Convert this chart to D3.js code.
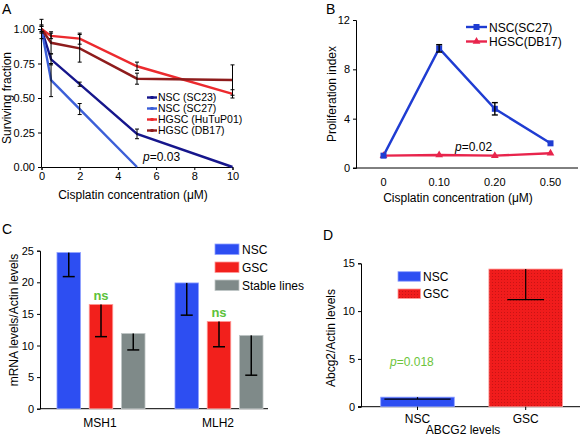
<!DOCTYPE html>
<html><head><meta charset="utf-8">
<script src="https://cdn.jsdelivr.net/npm/d3@7/dist/d3.min.js"></script>
<style>
body{margin:0;background:#fff;}
svg{font-family:"Liberation Sans",Arial,sans-serif;}
.axis path,.axis line{stroke:#000;stroke-width:1;}
.axis text{font-size:11px;fill:#000;}
</style></head><body>
<svg id="c" width="580" height="436"></svg>
<script>
// ---------- DATA ----------
// Panel A
const aDoses = [0, 0.5, 2, 5, 10];
const aSeries = ["NSC (SC23)", "NSC (SC27)", "HGSC (HuTuP01)", "HGSC (DB17)"];
const aSC23 = [1.00, 0.78, 0.60, 0.24, 0.00];
const aSC23Err = [0.02, 0.04, 0.015, 0.035, 0];
const aSC27 = [1.00, 0.63, 0.42, 0.00];
const aSC27Err = [0.07, 0.12, 0.04, 0];
const aHuTu = [1.00, 0.95, 0.93, 0.73, 0.53];
const aHuTuErr = [0.02, 0.02, 0.04, 0.03, 0.03];
const aDB17 = [1.00, 0.90, 0.86, 0.64, 0.63];
const aDB17Err = [0.03, 0.08, 0.10, 0.04, 0.11];
const aYTicks = [0, 0.25, 0.5, 0.75, 1.0];
const aXTicks = [0, 2, 4, 6, 8, 10];
// Panel B
const bCats = ["0", "0.10", "0.20", "0.50"];
const bSeries = ["NSC(SC27)", "HGSC(DB17)"];
const bNSC = [1.0, 9.7, 4.8, 2.0];
const bNSCErr = [0, 0.3, 0.5, 0];
const bHGSC = [1.0, 1.05, 1.0, 1.2];
const bYTicks = [0, 4, 8, 12];
// Panel C
const cGroups = ["MSH1", "MLH2"];
const cSeries = ["NSC", "GSC", "Stable lines"];
const cNSC = [24.7, 19.9];
const cGSC = [16.5, 13.8];
const cStable = [11.9, 11.6];
const cNSCLow = [20.9, 14.8];
const cGSCLow = [11.4, 9.8];
const cStableLow = [9.3, 5.3];
const cYTicks = [0, 5, 10, 15, 20, 25];
// Panel D
const dCats = ["NSC", "GSC"];
const dValues = [1.0, 14.4];
const dLow = [0.8, 11.2];
const dYTicks = [0, 5, 10, 15];

// ---------- DRAW ----------
const svg = d3.select("#c");
const defs = svg.append("defs");
const pat = defs.append("pattern").attr("id","dots").attr("width",3).attr("height",3).attr("patternUnits","userSpaceOnUse");
pat.append("rect").attr("width",3).attr("height",3).attr("fill","#f01c1c");
pat.append("rect").attr("x",0).attr("y",0).attr("width",1).attr("height",1).attr("fill","#c81414");

function letter(t,x,y){svg.append("text").attr("x",x).attr("y",y).attr("font-size",14).text(t);}
function ytitle(t,x,y,size){svg.append("text").attr("transform",`translate(${x},${y}) rotate(-90)`).attr("text-anchor","middle").attr("font-size",size||12).text(t);}
function xtitle(t,x,y,size){svg.append("text").attr("x",x).attr("y",y).attr("text-anchor","middle").attr("font-size",size||12).text(t);}
function errbar(g,x,y1,y2,cw,sw){
  g.append("line").attr("x1",x).attr("x2",x).attr("y1",y1).attr("y2",y2).attr("stroke","#000").attr("stroke-width",sw||1);
  [y1,y2].forEach(y=>g.append("line").attr("x1",x-cw/2).attr("x2",x+cw/2).attr("y1",y).attr("y2",y).attr("stroke","#000").attr("stroke-width",sw||1));
}

// ===== Panel A =====
{
  const x = d3.scaleLinear().domain([0,10]).range([41.5,232.5]);
  const y = d3.scaleLinear().domain([0,1]).range([167,29]);
  const g = svg.append("g");
  g.append("g").attr("class","axis").attr("transform","translate(41,0)")
    .call(d3.axisLeft(y).tickValues(aYTicks).tickFormat(d3.format(".2f")).tickSize(3).tickPadding(3));
  g.append("g").attr("class","axis").attr("transform","translate(0,167)")
    .call(d3.axisBottom(x).tickValues(aXTicks).tickSize(3).tickPadding(2));
  const cols = ["#16168c","#3c5fd8","#ec2a2e","#8e1c1c"];
  const vals = [aSC23,aSC27,aHuTu,aDB17];
  const errs = [aSC23Err,aSC27Err,aHuTuErr,aDB17Err];
  const line = d3.line().x(d=>x(d[0])).y(d=>y(d[1]));
  vals.forEach((v,i)=>{
    const pts = v.map((d,j)=>[aDoses[j],d]);
    g.append("path").attr("d",line(pts)).attr("fill","none").attr("stroke",cols[i]).attr("stroke-width",2.4);
  });
  vals.forEach((v,i)=>{
    v.forEach((d,j)=>{ const e=errs[i][j]; if(e>0) errbar(g,x(aDoses[j]),y(d+e),y(d-e),4,1); });
  });
  // legend
  aSeries.forEach((s,i)=>{
    const yy = 97.5 + i*11;
    g.append("line").attr("x1",147).attr("x2",157).attr("y1",yy).attr("y2",yy).attr("stroke",cols[i]).attr("stroke-width",2.4);
    g.append("rect").attr("x",150.5).attr("y",yy-1.5).attr("width",3).attr("height",3).attr("fill",cols[i]);
    g.append("text").attr("x",158).attr("y",yy+3.8).attr("font-size",10.5).text(s);
  });
  const p = g.append("text").attr("x",143).attr("y",161).attr("font-size",12);
  p.append("tspan").attr("font-style","italic").text("p");
  p.append("tspan").text("=0.03");
  letter("A",2,14);
  ytitle("Surviving fraction",11,98,12);
  xtitle("Cisplatin concentration (\u03bcM)",133,199,12);
}

// ===== Panel B =====
{
  const x = d3.scalePoint().domain(bCats).range([383.5,550.5]);
  const y = d3.scaleLinear().domain([0,12]).range([168,20]);
  const g = svg.append("g");
  g.append("g").attr("class","axis").attr("transform","translate(356,0)")
    .call(d3.axisLeft(y).tickValues(bYTicks).tickSize(3).tickPadding(3));
  g.append("line").attr("x1",353).attr("x2",578).attr("y1",168).attr("y2",168).attr("stroke","#000");
  bCats.forEach(c=>g.append("text").attr("x",x(c)).attr("y",186).attr("text-anchor","middle").attr("font-size",11).text(c));
  const line = d3.line().x((d,i)=>x(bCats[i])).y(d=>y(d));
  const blue="#1f3cd2", red="#e8244c";
  g.append("path").attr("d",line(bHGSC)).attr("fill","none").attr("stroke",red).attr("stroke-width",2.4);
  g.append("path").attr("d",line(bNSC)).attr("fill","none").attr("stroke",blue).attr("stroke-width",2.4);
  const tri = d3.symbol().type(d3.symbolTriangle).size(26);
  bHGSC.forEach((d,i)=>g.append("path").attr("d",tri()).attr("transform",`translate(${x(bCats[i])},${y(d)})`).attr("fill",red));
  bNSC.forEach((d,i)=>g.append("rect").attr("x",x(bCats[i])-3).attr("y",y(d)-3).attr("width",6).attr("height",6).attr("fill",blue));
  bNSC.forEach((d,i)=>{const e=bNSCErr[i]; if(e>0) errbar(g,x(bCats[i]),y(d+e),y(d-e),6,1.4);});
  // legend
  const lc=[blue,red];
  bSeries.forEach((s,i)=>{
    const yy = 27 + i*14.5;
    g.append("line").attr("x1",466).attr("x2",487).attr("y1",yy).attr("y2",yy).attr("stroke",lc[i]).attr("stroke-width",2.4);
    if(i===0) g.append("rect").attr("x",473.5).attr("y",yy-3).attr("width",6).attr("height",6).attr("fill",lc[i]);
    else g.append("path").attr("d",tri()).attr("transform",`translate(476.5,${yy})`).attr("fill",lc[i]);
    g.append("text").attr("x",489).attr("y",yy+4.5).attr("font-size",12).text(s);
  });
  const p = g.append("text").attr("x",455).attr("y",151).attr("font-size",12);
  p.append("tspan").attr("font-style","italic").text("p");
  p.append("tspan").text("=0.02");
  letter("B",326,14);
  ytitle("Proliferation index",336,94,12);
  xtitle("Cisplatin concentration (\u03bcM)",458,202,12);
}

// ===== Panel C =====
{
  const x0 = d3.scaleBand().domain(cGroups).range([42,278]).paddingInner(0.254).paddingOuter(0.127);
  const x1 = d3.scaleBand().domain(cSeries).range([0,x0.bandwidth()]).paddingInner(0.271).paddingOuter(0);
  const y = d3.scaleLinear().domain([0,25]).range([408.7,250.7]);
  const g = svg.append("g");
  g.append("g").attr("class","axis").attr("transform","translate(40,0)")
    .call(d3.axisLeft(y).tickValues(cYTicks).tickSize(3).tickPadding(3));
  g.append("line").attr("x1",40).attr("x2",268).attr("y1",408.7).attr("y2",408.7).attr("stroke","#000");
  const cols = ["#2d4ef2","#f2201c","#7f8a89"];
  const strokes = ["#8fa0ff","#ff9a98","#c0c6c6"];
  const vals=[cNSC,cGSC,cStable], lows=[cNSCLow,cGSCLow,cStableLow];
  cGroups.forEach((grp,gi)=>{
    cSeries.forEach((s,si)=>{
      const v = vals[si][gi];
      const bx = x0(grp)+x1(s);
      g.append("rect").attr("x",bx).attr("y",y(v)).attr("width",x1.bandwidth()).attr("height",y(0)-y(v))
        .attr("fill",cols[si]).attr("stroke",strokes[si]).attr("stroke-width",0.8);
      const cx = bx + x1.bandwidth()/2;
      g.append("line").attr("x1",cx).attr("x2",cx).attr("y1",y(v)).attr("y2",y(lows[si][gi])).attr("stroke","#000").attr("stroke-width",1.5);
      g.append("line").attr("x1",cx-6).attr("x2",cx+6).attr("y1",y(lows[si][gi])).attr("y2",y(lows[si][gi])).attr("stroke","#000").attr("stroke-width",1.5);
    });
    g.append("text").attr("x",x0(grp)+x0.bandwidth()/2-1).attr("y",427).attr("text-anchor","middle").attr("font-size",12).text(grp);
    const gx = x0(grp)+x1("GSC")+x1.bandwidth()/2;
    g.append("text").attr("x",gx).attr("y",y(cGSC[gi])-4).attr("text-anchor","middle").attr("font-size",13).attr("font-weight","bold").attr("fill","#5cc23a").text("ns");
  });
  cSeries.forEach((s,i)=>{
    const yy = 244 + i*18;
    g.append("rect").attr("x",215).attr("y",yy).attr("width",24).attr("height",10.5).attr("fill",cols[i]).attr("stroke",strokes[i]).attr("stroke-width",0.8);
    g.append("text").attr("x",242).attr("y",yy+9.5).attr("font-size",12).text(s);
  });
  letter("C",2,234);
  ytitle("mRNA levels/Actin levels",18,320,12);
}

// ===== Panel D =====
{
  const x = d3.scaleBand().domain(dCats).range([360.7,582.5]).paddingInner(0.32).paddingOuter(0.185);
  const y = d3.scaleLinear().domain([0,15]).range([406.7,263.3]);
  const g = svg.append("g");
  g.append("g").attr("class","axis").attr("transform","translate(361,0)")
    .call(d3.axisLeft(y).tickValues(dYTicks).tickSize(3).tickPadding(3));
  g.append("line").attr("x1",358).attr("x2",580).attr("y1",406.7).attr("y2",406.7).attr("stroke","#000");
  const fills = ["#2d4ef2","url(#dots)"];
  const strokes = ["#8fa0ff","#ff9a98"];
  const caps = [0.9,0.5];
  dCats.forEach((c,i)=>{
    const v=dValues[i];
    g.append("rect").attr("x",x(c)).attr("y",y(v)).attr("width",x.bandwidth()).attr("height",y(0)-y(v))
      .attr("fill",fills[i]).attr("stroke",strokes[i]).attr("stroke-width",0.8);
    const cx = x(c)+x.bandwidth()/2, cw = x.bandwidth()*caps[i];
    g.append("line").attr("x1",cx).attr("x2",cx).attr("y1",y(v)).attr("y2",y(dLow[i])).attr("stroke","#000").attr("stroke-width",1.2);
    g.append("line").attr("x1",cx-cw/2).attr("x2",cx+cw/2).attr("y1",y(dLow[i])).attr("y2",y(dLow[i])).attr("stroke","#000").attr("stroke-width",1.2);
    g.append("line").attr("x1",cx).attr("x2",cx).attr("y1",406.7).attr("y2",410).attr("stroke","#000");
    g.append("text").attr("x",cx).attr("y",423).attr("text-anchor","middle").attr("font-size",12).text(c);
  });
  ["NSC","GSC"].forEach((s,i)=>{
    const yy = 271.7 + i*17.3;
    g.append("rect").attr("x",398).attr("y",yy).attr("width",22.5).attr("height",9.5).attr("fill",fills[i]).attr("stroke",strokes[i]).attr("stroke-width",0.8);
    g.append("text").attr("x",423).attr("y",yy+9.3).attr("font-size",12).text(s);
  });
  const p = g.append("text").attr("x",390).attr("y",366).attr("font-size",12).attr("fill","#6cc43c");
  p.append("tspan").attr("font-style","italic").text("p");
  p.append("tspan").text("=0.018");
  letter("D",323,240);
  ytitle("Abcg2/Actin levels",335,338,12);
  xtitle("ABCG2 levels",463,434,12);
}
</script></body></html>
